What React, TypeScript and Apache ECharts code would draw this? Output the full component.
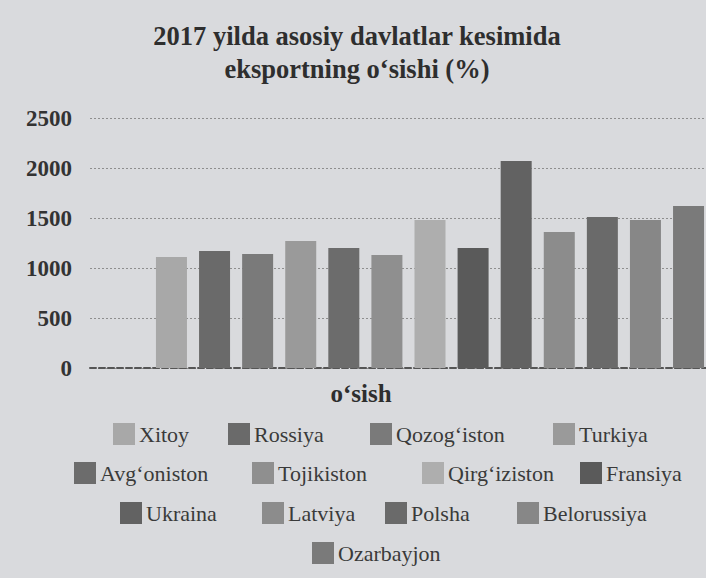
import React, { useEffect, useRef } from "react";
import * as echarts from "echarts";

const titleText = "2017 yilda asosiy davlatlar kesimida\neksportning o‘sishi (%)";
const category = "o‘sish";
const countries = [
  "Xitoy", "Rossiya", "Qozog‘iston", "Turkiya",
  "Avg‘oniston", "Tojikiston", "Qirg‘iziston", "Fransiya",
  "Ukraina", "Latviya", "Polsha", "Belorussiya", "Ozarbayjon",
];
const values = [1110, 1170, 1140, 1270, 1200, 1130, 1480, 1200, 2070, 1360, 1510, 1480, 1620];
const yTicks = { min: 0, max: 2500, interval: 500 };

// styling / layout (not data)
const colors = [
  "#a8a8a8", "#6a6a6a", "#7a7a7a", "#9a9a9a",
  "#6c6c6c", "#8f8f8f", "#aeaeae", "#5a5a5a",
  "#626262", "#8c8c8c", "#6a6a6a", "#878787", "#7a7a7a",
];
const legendPos = [
  [113, 434], [228, 434], [370, 434], [553, 434],
  [74, 473], [252, 473], [422, 473], [580, 473],
  [120, 513], [262, 513], [385, 513], [517, 513],
  [312, 553],
];

const FONT = "Liberation Serif, Times New Roman, serif";
const CHART_W = 770;

export default function App() {
  const ref = useRef<HTMLDivElement>(null);
  useEffect(() => {
    if (!ref.current) return;
    const chart = echarts.init(ref.current, undefined, { renderer: "svg" });
    const option: any = {
      animation: false,
      backgroundColor: "#d9dadd",
      textStyle: { fontFamily: FONT },
      title: [
        {
          text: titleText,
          left: 357,
          textAlign: "center",
          top: 19,
          padding: 0,
          textStyle: {
            fontFamily: FONT,
            fontSize: 26.5,
            fontWeight: "bold",
            lineHeight: 33,
            color: "#2e2e2e",
          },
        },
        {
          text: category,
          left: 361,
          textAlign: "center",
          top: 381,
          padding: 0,
          textStyle: {
            fontFamily: FONT,
            fontSize: 25,
            fontWeight: "bold",
            color: "#2e2e2e",
          },
        },
      ],
      legend: countries.map((name, i) => ({
        data: [name],
        left: legendPos[i][0],
        top: legendPos[i][1] - 11,
        padding: 0,
        itemGap: 0,
        icon: "rect",
        itemWidth: 22,
        itemHeight: 22,
        selectedMode: false,
        textStyle: {
          fontFamily: FONT,
          fontSize: 22,
          color: "#3a3a3a",
          padding: [0, 0, 0, -1],
        },
      })),
      grid: { left: 90, right: 0, top: 118, bottom: 210, containLabel: false },
      xAxis: {
        type: "category",
        data: [category],
        axisLabel: { show: false },
        axisTick: { show: false },
        axisLine: {
          show: true,
          lineStyle: { color: "#555", width: 2, type: [6, 3] },
        },
        splitLine: { show: false },
      },
      yAxis: {
        type: "value",
        min: yTicks.min,
        max: yTicks.max,
        interval: yTicks.interval,
        axisLine: { show: false },
        axisTick: { show: false },
        axisLabel: {
          margin: 18,
          fontFamily: FONT,
          fontSize: 23,
          fontWeight: "bold",
          color: "#333",
          formatter: (v: number) => String(v),
        },
        splitLine: {
          show: true,
          lineStyle: { color: "#8e8e8e", width: 1, type: [2, 2] },
        },
      },
      series: countries.map((name, i) => ({
        name,
        type: "bar",
        data: [values[i]],
        barWidth: 31,
        barGap: "39%",
        itemStyle: { color: colors[i] },
      })),
    };
    chart.setOption(option);
    return () => chart.dispose();
  }, []);
  return (
    <div
      style={{
        position: "absolute",
        left: 0,
        top: 0,
        width: 706,
        height: 578,
        overflow: "hidden",
        background: "#d9dadd",
      }}
    >
      <div ref={ref} style={{ width: CHART_W, height: 578 }} />
    </div>
  );
}
